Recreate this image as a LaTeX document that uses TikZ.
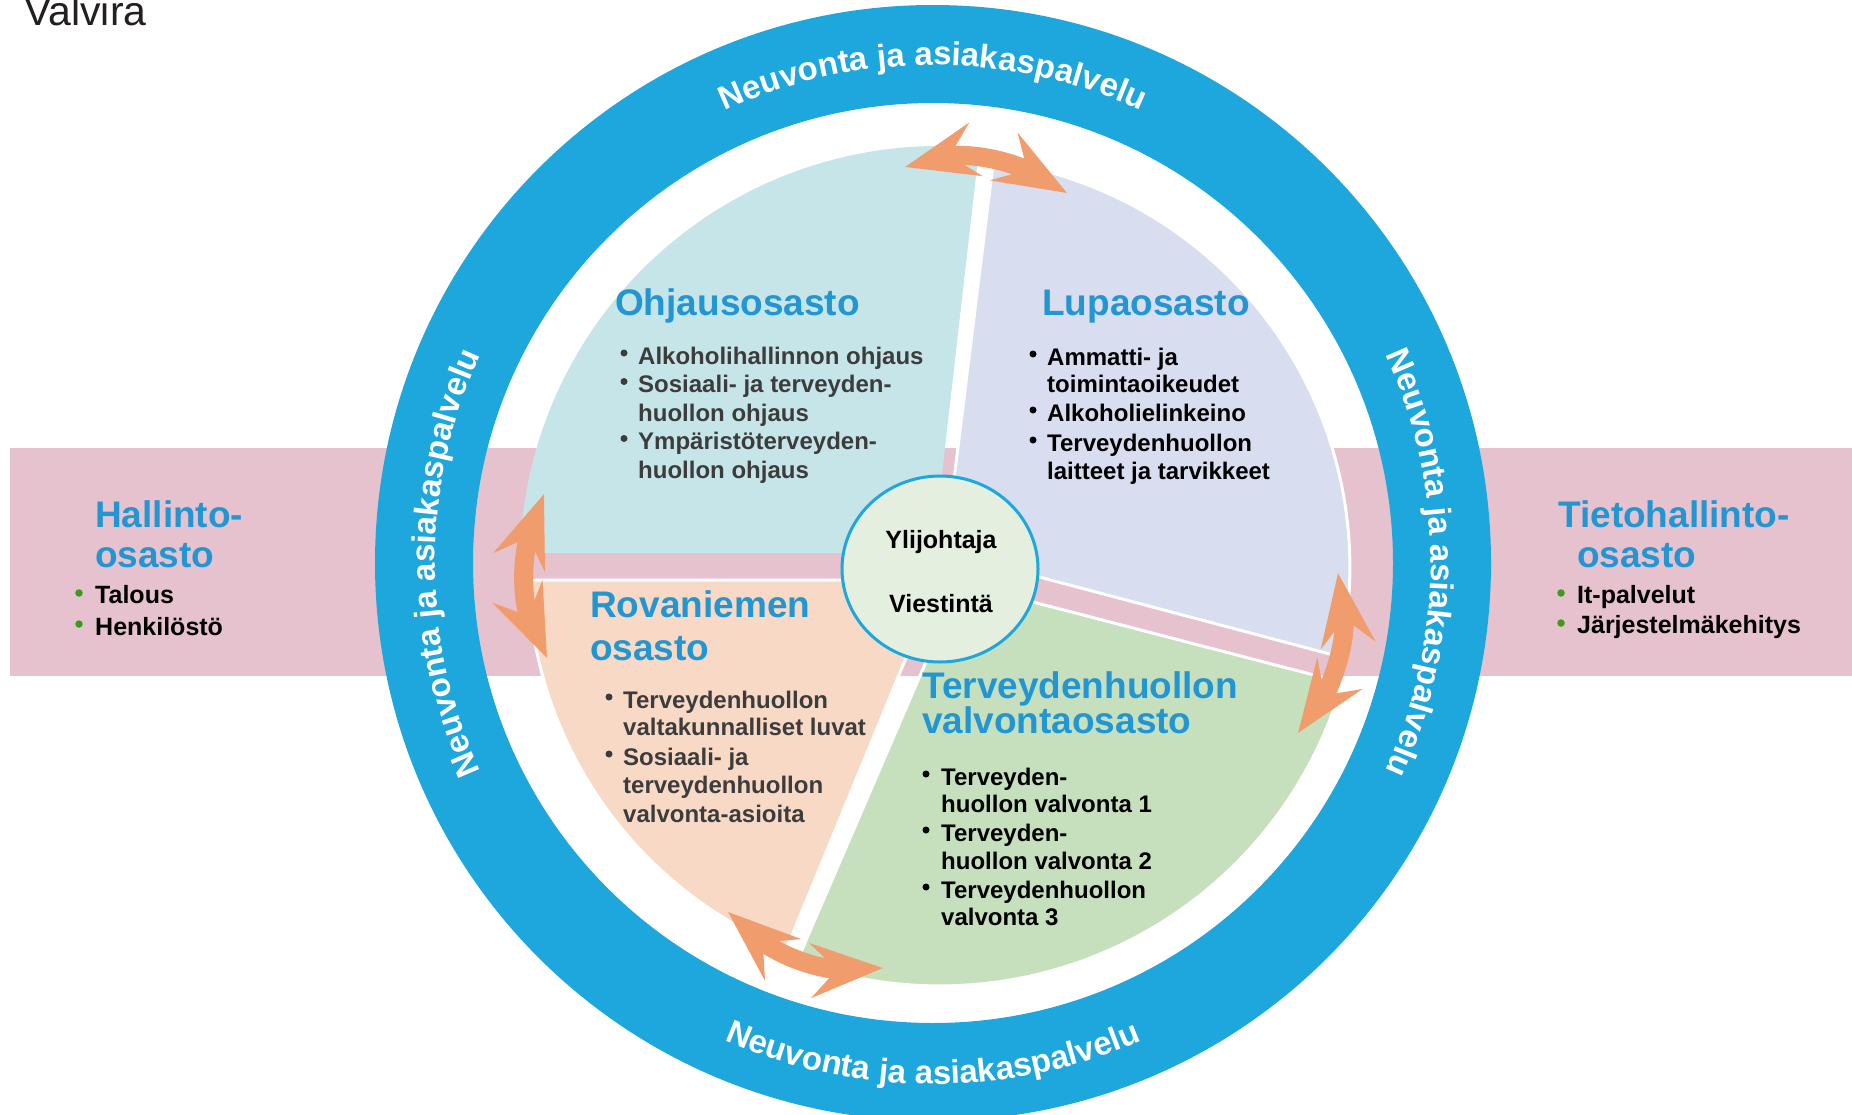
\documentclass[tikz,border=0pt]{standalone}
\usepackage{fontspec}
\setmainfont{Liberation Sans}
\usetikzlibrary{arrows.meta,decorations.text}
\definecolor{ringblue}{HTML}{1DA7DC}
\definecolor{titleblue}{HTML}{2196D3}
\definecolor{pinkband}{HTML}{E6C2CE}
\definecolor{ohjc}{HTML}{C5E5E8}
\definecolor{lupac}{HTML}{D8DDEF}
\definecolor{tervc}{HTML}{C6E0BD}
\definecolor{rovc}{HTML}{F8D9C6}
\definecolor{centc}{HTML}{E4EFDF}
\definecolor{arrc}{HTML}{F09C6C}
\definecolor{greyt}{HTML}{3C3C3C}
\definecolor{bulgreen}{HTML}{3D9A1A}
\definecolor{valv}{HTML}{231F20}
\newcommand\ringfnt{\bfseries\fontsize{33}{33}\selectfont}
\begin{document}
\begin{tikzpicture}[x=1pt,y=1pt,
  ttl/.style={anchor=base west, inner sep=0pt, text=titleblue, font=\bfseries\fontsize{37}{37}\selectfont},
  itm/.style={anchor=base west, inner sep=0pt, font=\bfseries\fontsize{24}{24}\selectfont},
  sidei/.style={anchor=base west, inner sep=0pt, font=\bfseries\fontsize{25}{25}\selectfont},
  dot/.style={circle, fill, inner sep=0pt, minimum size=7pt},
  gdot/.style={circle, fill=bulgreen, inner sep=0pt, minimum size=7.5pt},
  arr/.style={draw=arrc, line width=19pt, {Stealth[length=72pt,width=54pt,inset=26pt]}-{Stealth[length=72pt,width=54pt,inset=26pt]}},
  ringtxt/.style={decorate, decoration={text along path, text align=center, text color=white, text={|\ringfnt|Neuvonta ja asiakaspalvelu}}}
]
\useasboundingbox (0,0) rectangle (1852,-1114);
\fill[white] (0,0) rectangle (1852,-1114);
\fill[pinkband] (10,-448) rectangle (1852,-676);
\coordinate (rc) at (933,-563);
\fill[ringblue,even odd rule] (rc) circle[radius=558] (rc) circle[radius=460];

% ring texts
\path[ringtxt] ([shift={(120:498)}]rc) arc[start angle=120, end angle=60, radius=498];
\path[ringtxt] ([shift={(240:521)}]rc) arc[start angle=240, end angle=300, radius=521];
\path[ringtxt] ([shift={(30:498)}]rc) arc[start angle=30, end angle=-30, radius=498];
\path[ringtxt] ([shift={(210:498)}]rc) arc[start angle=210, end angle=150, radius=498];

% sectors
\fill[ohjc] (933,-553) -- (979.2,-147.8) arc[start angle=84.6, end angle=178.2, radius=420] -- cycle;
\path[fill=lupac, draw=white, line width=3pt] (945,-552) -- (1340,-656.7) arc[start angle=-12.6, end angle=82.5, radius=410] -- cycle;
\path[fill=tervc, draw=white, line width=3pt] (960,-583) -- (797.1,-960.9) arc[start angle=-109.9, end angle=-16.0, radius=419] -- cycle;
\path[fill=rovc, draw=white, line width=3pt] (938,-580) -- (528.2,-580) arc[start angle=181.8, end angle=248.1, radius=412] -- cycle;

% centre
\path[fill=centc, draw=ringblue, line width=3pt] (940,-569) ellipse[x radius=98, y radius=93];
\node[anchor=base, inner sep=0pt, font=\bfseries\fontsize{25}{25}\selectfont] (ylij) at (941,-548) {Ylijohtaja};
\node[anchor=base, inner sep=0pt, font=\bfseries\fontsize{25}{25}\selectfont] (viest) at (941,-612) {Viestintä};

% arrows
\coordinate (a1l) at (905,-167); \coordinate (a1r) at (1067,-193);
\draw[arr] (a1l) to[out=14,in=150] (a1r);
\coordinate (a2t) at (544,-494); \coordinate (a2b) at (547,-658);
\draw[arr] (a2t) to[out=250,in=114] (a2b);
\coordinate (a3t) at (1338,-573); \coordinate (a3b) at (1298,-733);
\draw[arr] (a3t) to[out=278,in=55] (a3b);
\coordinate (a4l) at (728,-912); \coordinate (a4r) at (883,-968);
\draw[arr] (a4l) to[out=319,in=182] (a4r);

% title
\node[anchor=base west, inner sep=0pt, text=valv, font=\fontsize{41}{41}\selectfont] (valvira) at (24,-25) {Valvira};

% Ohjausosasto
\node[ttl] (ohjt) at (615,-315) {Ohjausosasto};
\node[dot, greyt] (od1) at (624,-353) {};
\node[itm, text=greyt] (o1) at (638,-364) {Alkoholihallinnon ohjaus};
\node[dot, greyt] (od2) at (624,-381.5) {};
\node[itm, text=greyt] (o2) at (638,-392.5) {Sosiaali- ja terveyden-};
\node[itm, text=greyt] (o3) at (638,-421) {huollon ohjaus};
\node[dot, greyt] (od3) at (624,-438.5) {};
\node[itm, text=greyt] (o4) at (638,-449.5) {Ympäristöterveyden-};
\node[itm, text=greyt] (o5) at (638,-478) {huollon ohjaus};

% Lupaosasto
\node[ttl] (lupt) at (1042,-315) {Lupaosasto};
\node[dot] (ld1) at (1033,-354) {};
\node[itm] (l1) at (1047,-365) {Ammatti- ja};
\node[itm] (l2) at (1047,-392) {toimintaoikeudet};
\node[dot] (ld2) at (1033,-410) {};
\node[itm] (l3) at (1047,-421) {Alkoholielinkeino};
\node[dot] (ld3) at (1033,-440) {};
\node[itm] (l4) at (1047,-451) {Terveydenhuollon};
\node[itm] (l5) at (1047,-479) {laitteet ja tarvikkeet};

% Rovaniemen osasto
\node[ttl] (rovt1) at (590,-617) {Rovaniemen};
\node[ttl] (rovt2) at (590,-660) {osasto};
\node[dot, greyt] (rd1) at (609,-697) {};
\node[itm, text=greyt] (r1) at (623,-708) {Terveydenhuollon};
\node[itm, text=greyt] (r2) at (623,-735) {valtakunnalliset luvat};
\node[dot, greyt] (rd2) at (609,-754) {};
\node[itm, text=greyt] (r3) at (623,-765) {Sosiaali- ja};
\node[itm, text=greyt] (r4) at (623,-793) {terveydenhuollon};
\node[itm, text=greyt] (r5) at (623,-822) {valvonta-asioita};

% Terveydenhuollon valvontaosasto
\node[ttl] (tervt1) at (922,-698) {Terveydenhuollon};
\node[ttl] (tervt2) at (922,-733) {valvontaosasto};
\node[dot] (td1) at (926,-774) {};
\node[itm] (t1) at (941,-785) {Terveyden-};
\node[itm] (t2) at (941,-812) {huollon valvonta 1};
\node[dot] (td2) at (926,-830) {};
\node[itm] (t3) at (941,-841) {Terveyden-};
\node[itm] (t4) at (941,-869) {huollon valvonta 2};
\node[dot] (td3) at (926,-887) {};
\node[itm] (t5) at (941,-898) {Terveydenhuollon};
\node[itm] (t6) at (941,-925) {valvonta 3};

% Hallinto-osasto
\node[ttl] (halt1) at (95,-527) {Hallinto-};
\node[ttl] (halt2) at (95,-567) {osasto};
\node[gdot] (hd1) at (79,-593) {};
\node[sidei] (h1) at (95,-603) {Talous};
\node[gdot] (hd2) at (79,-624) {};
\node[sidei] (h2) at (95,-635) {Henkilöstö};

% Tietohallinto-osasto
\node[ttl] (tiet1) at (1558,-527) {Tietohallinto-};
\node[ttl] (tiet2) at (1577,-567) {osasto};
\node[gdot] (tid1) at (1561,-593) {};
\node[sidei] (ti1) at (1577,-603) {It-palvelut};
\node[gdot] (tid2) at (1561,-623) {};
\node[sidei] (ti2) at (1577,-633) {Järjestelmäkehitys};
\end{tikzpicture}
\end{document}
